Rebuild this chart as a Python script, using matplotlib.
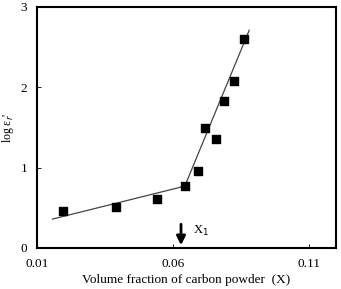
import matplotlib.pyplot as plt
import numpy as np

plt.rcParams['font.family'] = ['Liberation Serif', 'DejaVu Serif']

# measured points
vol_frac = [0.0196, 0.0392, 0.0543, 0.0644, 0.0694, 0.0719, 0.0759, 0.0789, 0.0826, 0.0863]
log_eps = [0.46, 0.51, 0.61, 0.77, 0.96, 1.49, 1.36, 1.83, 2.08, 2.60]

# two fitted lines (end points)
fit1_x = [0.0157, 0.0644]
fit1_y = [0.36, 0.77]
fit2_x = [0.0644, 0.0881]
fit2_y = [0.77, 2.71]

x_ticks = [0.01, 0.06, 0.11]
y_ticks = [0, 1, 2, 3]
x1_pos = 0.063

fig = plt.figure(figsize=(3.41, 2.89), dpi=100)
ax = fig.add_axes([0.1085, 0.1419, 0.8765, 0.834])

ax.plot(fit1_x, fit1_y, color='#444444', lw=0.9)
ax.plot(fit2_x, fit2_y, color='#444444', lw=0.9)
ax.scatter(vol_frac, log_eps, marker='s', s=30, color='black', zorder=3)

# arrow marking X1
ax.annotate('', xy=(x1_pos, 0.0), xytext=(x1_pos, 0.33),
            arrowprops=dict(arrowstyle='-|>', color='black', lw=2, mutation_scale=13))
ax.text(x1_pos + 0.0045, 0.21, 'X$_1$', fontsize=9, va='center', ha='left')

ax.set_xlim(0.01, 0.12)
ax.set_ylim(0, 3)
ax.set_xticks(x_ticks)
ax.set_xticklabels(['0.01', '0.06', '0.11'])
ax.set_yticks(y_ticks)
ax.tick_params(direction='in', length=3, width=0.6, labelsize=9.5, pad=7)
for s in ax.spines.values():
    s.set_linewidth(1.5)

ax.set_xlabel('Volume fraction of carbon powder  (X)', fontsize=9.5, labelpad=3)
ax.set_ylabel("log ε$_r$'", fontsize=8.5, labelpad=3)

fig.savefig('out.png', dpi=100)
